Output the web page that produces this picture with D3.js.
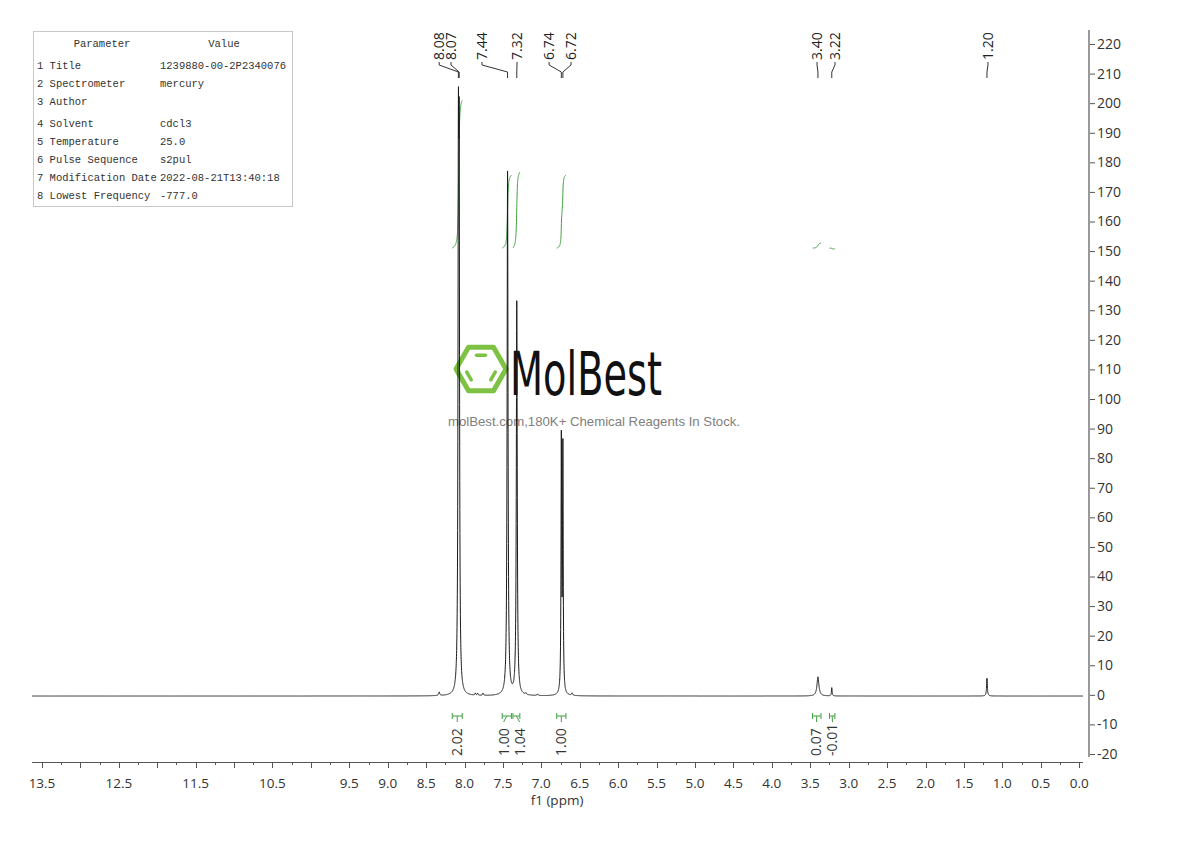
<!DOCTYPE html>
<html>
<head>
<meta charset="utf-8">
<script src="https://cdn.jsdelivr.net/npm/d3@7/dist/d3.min.js"></script>
<style>
  html, body { margin: 0; padding: 0; background: #fff; }
  svg { display: block; }
  .axis text { font-family: "Open Sans", sans-serif; font-size: 13.5px; fill: #333; }
  .param text { font-family: "Liberation Mono", monospace; font-size: 10.5px; fill: #333; }
</style>
</head>
<body>
<div id="chart"></div>
<script>
// peaks: [ppm, amplitude, half width in ppm]
const peaks = [
    [8.33, 1.2, 0.008],
    [8.08, 162, 0.006],
    [8.07, 157, 0.006],
    [7.86, 0.7, 0.006],
    [7.83, 0.7, 0.006],
    [7.76, 0.8, 0.006],
    [7.44, 177, 0.007],
    [7.32, 133, 0.007],
    [7.20, 0.5, 0.008],
    [7.05, 0.5, 0.008],
    [6.74, 85, 0.005],
    [6.72, 82, 0.005],
    [6.60, 0.8, 0.008],
    [3.40, 6.5, 0.015],
    [3.22, 2.8, 0.005],
    [1.20, 6.0, 0.006]
];
const baselineLevel = -0.4;

const peakLabels = ['8.08', '8.07', '7.44', '7.32', '6.74', '6.72', '3.40', '3.22', '1.20'];
const peakLabelAt = [8.33, 8.176, 7.773, 7.317, 6.90, 6.614, 3.412, 3.178, 1.187];

const integralRegions = [[8.16, 8.03], [7.51, 7.39], [7.37, 7.28], [6.80, 6.68], [3.47, 3.36], [3.25, 3.18]];
const integralValues = [2.02, 1.00, 1.04, 1.00, 0.07, -0.01];

const xTickLabels = ['13.5', '12.5', '11.5', '10.5', '9.5', '9.0', '8.5', '8.0', '7.5', '7.0', '6.5', '6.0',
    '5.5', '5.0', '4.5', '4.0', '3.5', '3.0', '2.5', '2.0', '1.5', '1.0', '0.5', '0.0'];
const yTicks = d3.range(-20, 221, 10);

const paramNames = ['1 Title', '2 Spectrometer', '3 Author', '4 Solvent', '5 Temperature',
    '6 Pulse Sequence', '7 Modification Date', '8 Lowest Frequency'];
const paramValues = ['1239880-00-2P2340076', 'mercury', '', 'cdcl3', '25.0', 's2pul',
    '2022-08-21T13:40:18', '-777.0'];

const W = 1190, H = 841;
const svg = d3.select('#chart').append('svg').attr('width', W).attr('height', H);

const x = d3.scaleLinear().domain([13.63, -0.05]).range([32, 1083]);
const y = d3.scaleLinear().domain([-20, 220]).range([754, 44]);

// spectrum from the peak list
function intensity(p) {
    let s = baselineLevel;
    for (const [c, a, w] of peaks) s += a * w * w / (w * w + (p - c) * (p - c));
    return s;
}
const spectrum = d3.range(13.63, -0.05, -0.001).map(p => [p, intensity(p)]);

// watermark
const logo = svg.append('g');
const cx = 481, cy = 369, r = 25;
const hex = d3.range(6).map(i => [cx + r * Math.cos(i * Math.PI / 3), cy + r * Math.sin(i * Math.PI / 3)]);
logo.append('path')
    .attr('d', 'M' + hex.join('L') + 'Z')
    .attr('fill', 'none').attr('stroke', '#7dc242').attr('stroke-width', 5).attr('stroke-linejoin', 'round');
[[4, 5], [0, 1], [2, 3]].forEach(([a, b]) => {
    const ri = r - 9, t = 0.22;
    const p1 = [cx + ri * Math.cos(a * Math.PI / 3), cy + ri * Math.sin(a * Math.PI / 3)];
    const p2 = [cx + ri * Math.cos(b * Math.PI / 3), cy + ri * Math.sin(b * Math.PI / 3)];
    logo.append('line')
        .attr('x1', p1[0] + (p2[0] - p1[0]) * t).attr('y1', p1[1] + (p2[1] - p1[1]) * t)
        .attr('x2', p2[0] - (p2[0] - p1[0]) * t).attr('y2', p2[1] - (p2[1] - p1[1]) * t)
        .attr('stroke', '#7dc242').attr('stroke-width', 3.5).attr('stroke-linecap', 'round');
});
logo.append('text')
    .attr('x', 510).attr('y', 395)
    .attr('textLength', 152).attr('lengthAdjust', 'spacingAndGlyphs')
    .style('font-family', '"DejaVu Sans", sans-serif').style('font-size', '60px').style('fill', '#111')
    .text('MolBest');
logo.append('text')
    .attr('x', 448).attr('y', 426)
    .attr('textLength', 292).attr('lengthAdjust', 'spacingAndGlyphs')
    .style('font-family', '"Liberation Sans", Arial, sans-serif').style('font-size', '13px').style('fill', '#808080')
    .text('molBest.com,180K+ Chemical Reagents In Stock.');

// parameter table
const param = svg.append('g').attr('class', 'param');
param.append('rect').attr('x', 33.5).attr('y', 31.5).attr('width', 259).attr('height', 175)
    .attr('fill', '#fff').attr('stroke', '#c8c8c8');
param.append('text').attr('x', 102).attr('y', 47).attr('text-anchor', 'middle').text('Parameter');
param.append('text').attr('x', 224).attr('y', 47).attr('text-anchor', 'middle').text('Value');
const rowY = [69, 87, 105, 127, 145, 163, 181, 199];
paramNames.forEach((n, i) => {
    param.append('text').attr('x', 37).attr('y', rowY[i]).text(n);
    param.append('text').attr('x', 160).attr('y', rowY[i]).text(paramValues[i]);
});

// integral curves
const intBase = 151, intUnit = 24.7;
integralRegions.forEach(([hi, lo], i) => {
    const pts = spectrum.filter(d => d[0] <= hi && d[0] >= lo);
    const total = d3.sum(pts, d => d[1] - baselineLevel);
    let acc = 0;
    const curve = pts.map(d => {
        acc += d[1] - baselineLevel;
        return [d[0], intBase + (acc / total) * integralValues[i] * intUnit];
    });
    svg.append('path')
        .datum(curve)
        .attr('fill', 'none').attr('stroke', '#3f9f3f').attr('stroke-width', 1)
        .attr('d', d3.line().x(d => x(d[0])).y(d => y(d[1])));
});

// spectrum
svg.append('path')
    .datum(spectrum)
    .attr('fill', 'none').attr('stroke', '#1a1a1a').attr('stroke-width', 1)
    .attr('d', d3.line().x(d => x(d[0])).y(d => y(d[1])));

// integral brackets and values
function spread(xs, gap) {
    const out = xs.slice();
    for (let k = 0; k < 50; k++) {
        for (let i = 1; i < out.length; i++) {
            const d = out[i] - out[i - 1];
            if (d < gap) {
                const m = (gap - d) / 2;
                out[i - 1] -= m; out[i] += m;
            }
        }
    }
    return out;
}
const mids = integralRegions.map(([hi, lo]) => (x(hi) + x(lo)) / 2);
const labX = spread(mids, 16);
const ig = svg.append('g').attr('stroke', '#3f9f3f').attr('fill', 'none');
integralRegions.forEach(([hi, lo], i) => {
    const x1 = x(hi), x2 = x(lo), m = mids[i];
    ig.append('path').attr('d',
        `M${x1},713V719M${x1},716H${x2}M${x2},713V719M${m},716L${labX[i]},722`);
    svg.append('text')
        .attr('transform', `translate(${labX[i]},756) rotate(-90)`)
        .attr('dy', '0.35em')
        .style('font-family', '"Open Sans", sans-serif').style('font-size', '14px').style('fill', '#333')
        .text(integralValues[i].toFixed(2));
});

// peak labels
const pg = svg.append('g').attr('stroke', '#333').attr('fill', 'none');
peakLabels.forEach((t, i) => {
    const lx = x(peakLabelAt[i]), px = x(+t);
    pg.append('path').attr('d', `M${lx},62V65L${px},72V78`);
    svg.append('text')
        .attr('transform', `translate(${lx},60) rotate(-90)`)
        .attr('dy', '0.35em')
        .style('font-family', '"Open Sans", sans-serif').style('font-size', '14px').style('fill', '#222')
        .text(t);
});

// x axis
const xMajor = xTickLabels.map(Number);
const xg = svg.append('g').attr('class', 'axis');
xg.append('line').attr('x1', 32).attr('x2', 1083).attr('y1', 762.5).attr('y2', 762.5).attr('stroke', '#555');
xg.selectAll('.maj').data(d3.range(0, 13.51, 0.5)).enter().append('line')
    .attr('x1', d => Math.round(x(d)) + 0.5).attr('x2', d => Math.round(x(d)) + 0.5)
    .attr('y1', 762).attr('y2', 768).attr('stroke', '#555');
xg.selectAll('.min').data(d3.range(0.25, 13.5, 0.5)).enter().append('line')
    .attr('x1', d => Math.round(x(d)) + 0.5).attr('x2', d => Math.round(x(d)) + 0.5)
    .attr('y1', 762).attr('y2', 765).attr('stroke', '#555');
xg.selectAll('.lab').data(xMajor).enter().append('text')
    .attr('x', d => x(d)).attr('y', 788).attr('text-anchor', 'middle')
    .text((d, i) => xTickLabels[i]);
xg.append('text').attr('x', 557).attr('y', 805).attr('text-anchor', 'middle').text('f1 (ppm)');

// y axis
const yg = svg.append('g').attr('class', 'axis').attr('transform', 'translate(1089,0)');
yg.call(d3.axisRight(y).tickValues(d3.range(-15, 221, 10)).tickSize(3).tickFormat(''));
yg.call(d3.axisRight(y).tickValues(yTicks).tickSize(6).tickPadding(2).tickFormat(d => String(d)));
yg.selectAll('.domain').remove();
yg.selectAll('.tick line').attr('stroke', '#555');
yg.append('line').attr('x1', 0).attr('x2', 0).attr('y1', 30).attr('y2', 757)
    .attr('stroke', '#999').attr('stroke-width', 2);
yg.selectAll('text').style('font-family', '"Open Sans", sans-serif').style('font-size', '14px').style('fill', '#333');
</script>
</body>
</html>
